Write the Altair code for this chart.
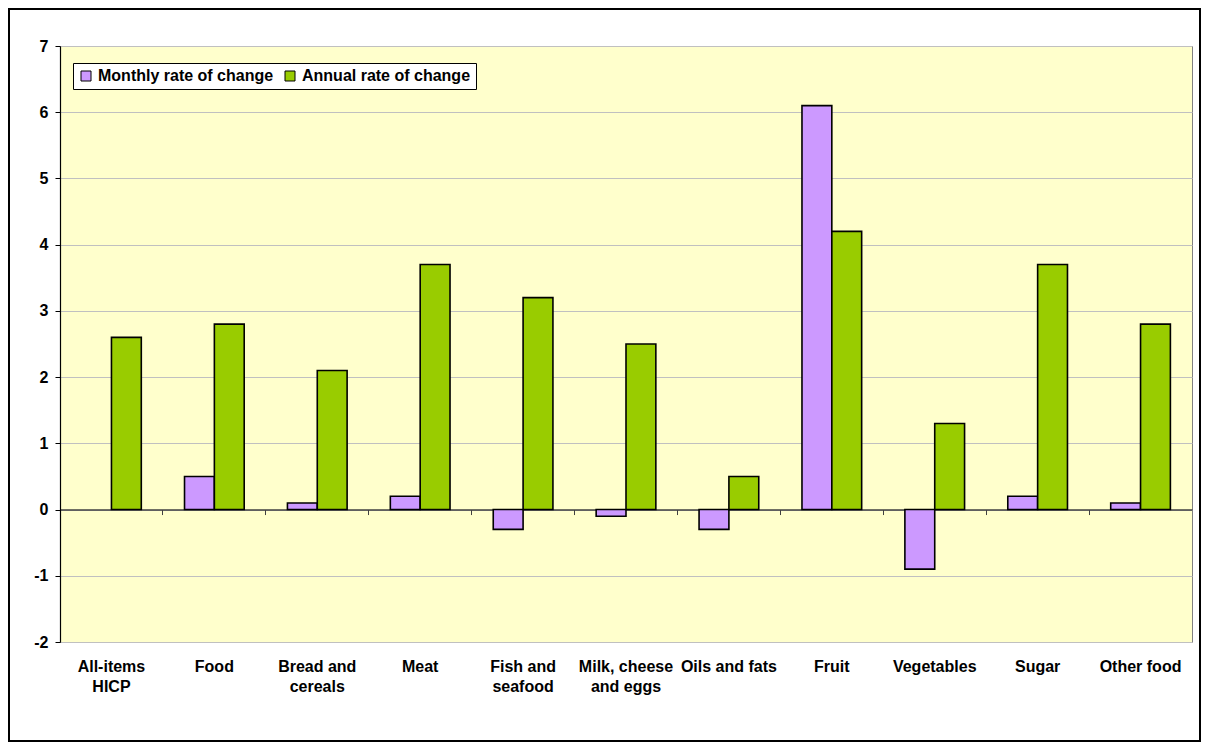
import altair as alt
import pandas as pd

categories = ["All-items HICP", "Food", "Bread and cereals", "Meat", "Fish and seafood",
              "Milk, cheese and eggs", "Oils and fats", "Fruit", "Vegetables", "Sugar", "Other food"]
monthly = [None, 0.5, 0.1, 0.2, -0.3, -0.1, -0.3, 6.1, -0.9, 0.2, 0.1]
annual = [2.6, 2.8, 2.1, 3.7, 3.2, 2.5, 0.5, 4.2, 1.3, 3.7, 2.8]
series = ["Monthly rate of change", "Annual rate of change"]
colors = ["#CC99FF", "#99CC00"]
y_ticks = list(range(-2, 8))
wrapped = {
    "All-items HICP": ["All-items", "HICP"],
    "Bread and cereals": ["Bread and", "cereals"],
    "Fish and seafood": ["Fish and", "seafood"],
    "Milk, cheese and eggs": ["Milk, cheese", "and eggs"],
}

rows = []
for c, m, a in zip(categories, monthly, annual):
    if m is not None:
        rows.append({"category": c, "series": series[0], "value": m})
    rows.append({"category": c, "series": series[1], "value": a})
df = pd.DataFrame(rows)
df_cat = pd.DataFrame({"category": categories})

label_expr = "datum.label"
for k, v in reversed(list(wrapped.items())):
    arr = "[" + ",".join("'" + s + "'" for s in v) + "]"
    label_expr = f"datum.label == '{k}' ? {arr} : ({label_expr})"

W, H = 1132, 596
FONT = "Liberation Sans"
FS = 16
PI = 0.42

xscale = alt.Scale(paddingInner=PI, paddingOuter=PI / 2)
yscale = alt.Scale(domain=[-2, 7], nice=False)

border = alt.Chart(df_cat).mark_rect(fillOpacity=0, stroke="black", strokeWidth=2).encode(
    x=alt.value(-51), x2=alt.value(1140), y=alt.value(-37), y2=alt.value(695)
)

bars = alt.Chart(df).mark_bar(stroke="black", strokeWidth=1.6).encode(
    x=alt.X("category:N", sort=categories, scale=xscale,
            axis=alt.Axis(title=None, labelAngle=0, labelFont=FONT, labelFontWeight="bold",
                          labelFontSize=FS, labelColor="black", labelPadding=16,
                          ticks=False, domain=False, labelLineHeight=20,
                          labelExpr=label_expr, labelLimit=300, labelBaseline="top",
                          orient="bottom")),
    xOffset=alt.XOffset("series:N", sort=series, scale=alt.Scale(paddingInner=0, paddingOuter=0)),
    y=alt.Y("value:Q", scale=yscale,
            axis=alt.Axis(values=y_ticks, title=None, labelExpr="'' + datum.value",
                          labelFont=FONT, labelFontWeight="bold", labelFontSize=FS,
                          labelColor="black", labelPadding=7, tickSize=5, tickColor="black",
                          domainColor="black", domainWidth=1.2,
                          grid=True, gridColor="#C0C0C0", gridWidth=1)),
    color=alt.Color("series:N", sort=series, scale=alt.Scale(domain=series, range=colors),
                    legend=alt.Legend(title=None, orient="none", legendX=13, legendY=17,
                                      direction="horizontal", columns=2,
                                      fillColor="white", strokeColor="black", padding=5,
                                      symbolType="square", symbolSize=100,
                                      symbolStrokeColor="black", symbolStrokeWidth=1,
                                      labelFont=FONT, labelFontWeight="bold",
                                      labelFontSize=FS, labelColor="black", labelLimit=400,
                                      columnPadding=8, labelOffset=4)),
)

zero_axis = alt.Chart(df_cat).mark_point(opacity=0).encode(
    x=alt.X("category:N", sort=categories, scale=xscale,
            axis=alt.Axis(title=None, labels=False, ticks=True, tickSize=5, orient="bottom",
                          tickColor="#404040", domain=True, domainColor="#404040",
                          domainWidth=1.5, offset=-H * 2 / 9,
                          bandPosition=-(PI / 2) / (1 - PI), grid=False)),
    y=alt.datum(0),
)

chart = alt.layer(border, bars, zero_axis).resolve_axis(x="independent").properties(
    width=W, height=H,
    padding={"left": 52, "top": 38, "right": 9, "bottom": 104},
    autosize=alt.AutoSizeParams(type="none"),
    background="white",
).configure_view(fill="#FFFFCC", stroke="#808080", strokeWidth=1)

chart.save("out.html", embed_options={"renderer": "svg", "actions": False})
